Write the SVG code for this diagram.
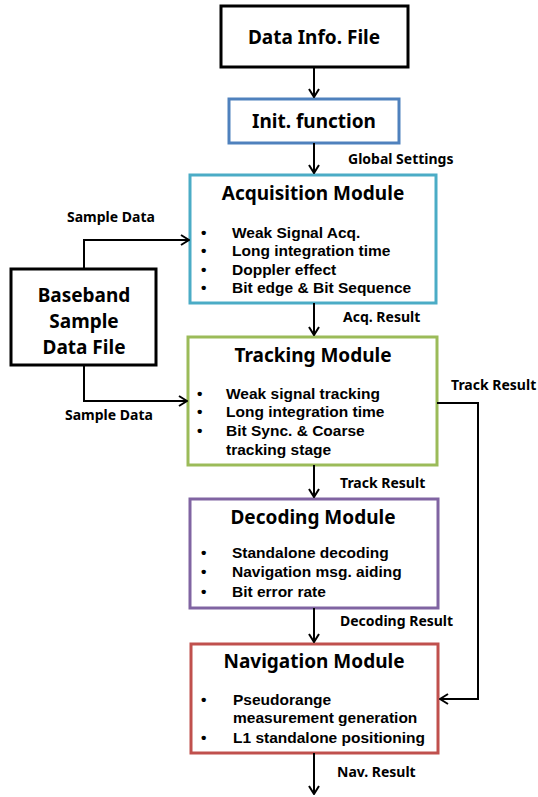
<svg xmlns="http://www.w3.org/2000/svg" width="538" height="797" viewBox="0 0 538 797">
<defs>
<marker id="arr" viewBox="0 0 12 12" refX="11" refY="6" markerWidth="12" markerHeight="12" markerUnits="userSpaceOnUse" orient="auto">
<polyline points="3,1 11,6 3,11" fill="none" stroke="#000" stroke-width="2"/>
</marker>
</defs>
<style>
text{font-family:"Noto Sans","Liberation Sans",sans-serif;font-weight:bold;fill:#000}
.box{fill:#fff;stroke-width:3}
.big{font-size:19px}
.title{font-size:19px}
.item{font-family:"Liberation Sans","Noto Sans",sans-serif;font-size:15.5px}
.lbl{font-size:14px}
.c{text-anchor:middle}
.conn{fill:none;stroke:#000;stroke-width:2;marker-end:url(#arr)}
</style>
<g id="data-info-file">
<rect class="box" x="221" y="6" width="187" height="61" stroke="#000"/>
<text class="big c" x="314" y="44">Data Info. File</text>
</g>
<g id="init-function">
<rect class="box" x="229" y="99" width="170" height="44" stroke="#4f81bd"/>
<text class="big c" x="314" y="128">Init. function</text>
</g>
<g id="acquisition-module">
<rect class="box" x="190" y="175" width="246" height="128" stroke="#4bacc6"/>
<text class="title c" x="313" y="200">Acquisition Module</text>
<text class="item" x="201" y="238">•</text><text class="item" x="232" y="238">Weak Signal Acq.</text>
<text class="item" x="201" y="256">•</text><text class="item" x="232" y="256">Long integration time</text>
<text class="item" x="201" y="275">•</text><text class="item" x="232" y="275">Doppler effect</text>
<text class="item" x="201" y="293">•</text><text class="item" x="232" y="293">Bit edge &amp; Bit Sequence</text>
</g>
<g id="baseband-file">
<rect class="box" x="11" y="269" width="145" height="96" stroke="#000"/>
<text class="big c" x="84" y="302">Baseband</text>
<text class="big c" x="84" y="328">Sample</text>
<text class="big c" x="84" y="354">Data File</text>
</g>
<g id="tracking-module">
<rect class="box" x="188" y="337" width="249" height="128" stroke="#9bbb59"/>
<text class="title c" x="313" y="362">Tracking Module</text>
<text class="item" x="197" y="399">•</text><text class="item" x="226" y="399">Weak signal tracking</text>
<text class="item" x="197" y="417">•</text><text class="item" x="226" y="417">Long integration time</text>
<text class="item" x="197" y="436">•</text><text class="item" x="226" y="436">Bit Sync. &amp; Coarse</text>
<text class="item" x="226" y="455">tracking stage</text>
</g>
<g id="decoding-module">
<rect class="box" x="190" y="499" width="248" height="109" stroke="#8064a2"/>
<text class="title c" x="313" y="524">Decoding Module</text>
<text class="item" x="201" y="558">•</text><text class="item" x="232" y="558">Standalone decoding</text>
<text class="item" x="201" y="577">•</text><text class="item" x="232" y="577">Navigation msg. aiding</text>
<text class="item" x="201" y="597">•</text><text class="item" x="232" y="597">Bit error rate</text>
</g>
<g id="navigation-module">
<rect class="box" x="191" y="644" width="247" height="109" stroke="#c0504d"/>
<text class="title c" x="314" y="668">Navigation Module</text>
<text class="item" x="201" y="705">•</text><text class="item" x="233" y="705">Pseudorange</text>
<text class="item" x="233" y="723">measurement generation</text>
<text class="item" x="201" y="743">•</text><text class="item" x="233" y="743">L1 standalone positioning</text>
</g>
<g id="connectors">
<path class="conn" d="M314,67 V97"/>
<path class="conn" d="M314,143 V173"/>
<path class="conn" d="M84,269 V240 H189"/>
<path class="conn" d="M314,303 V335"/>
<path class="conn" d="M84,365 V401 H187"/>
<path class="conn" d="M437,403 H478 V699 H440"/>
<path class="conn" d="M314,465 V497"/>
<path class="conn" d="M314,608 V642"/>
<path class="conn" d="M314,753 V794"/>
<text class="lbl" x="348" y="164">Global Settings</text>
<text class="lbl" x="67" y="222">Sample Data</text>
<text class="lbl" x="343" y="322">Acq. Result</text>
<text class="lbl" x="65" y="420">Sample Data</text>
<text class="lbl" x="451" y="390">Track Result</text>
<text class="lbl" x="340" y="488">Track Result</text>
<text class="lbl" x="340" y="626">Decoding Result</text>
<text class="lbl" x="337" y="777">Nav. Result</text>
</g>
</svg>
